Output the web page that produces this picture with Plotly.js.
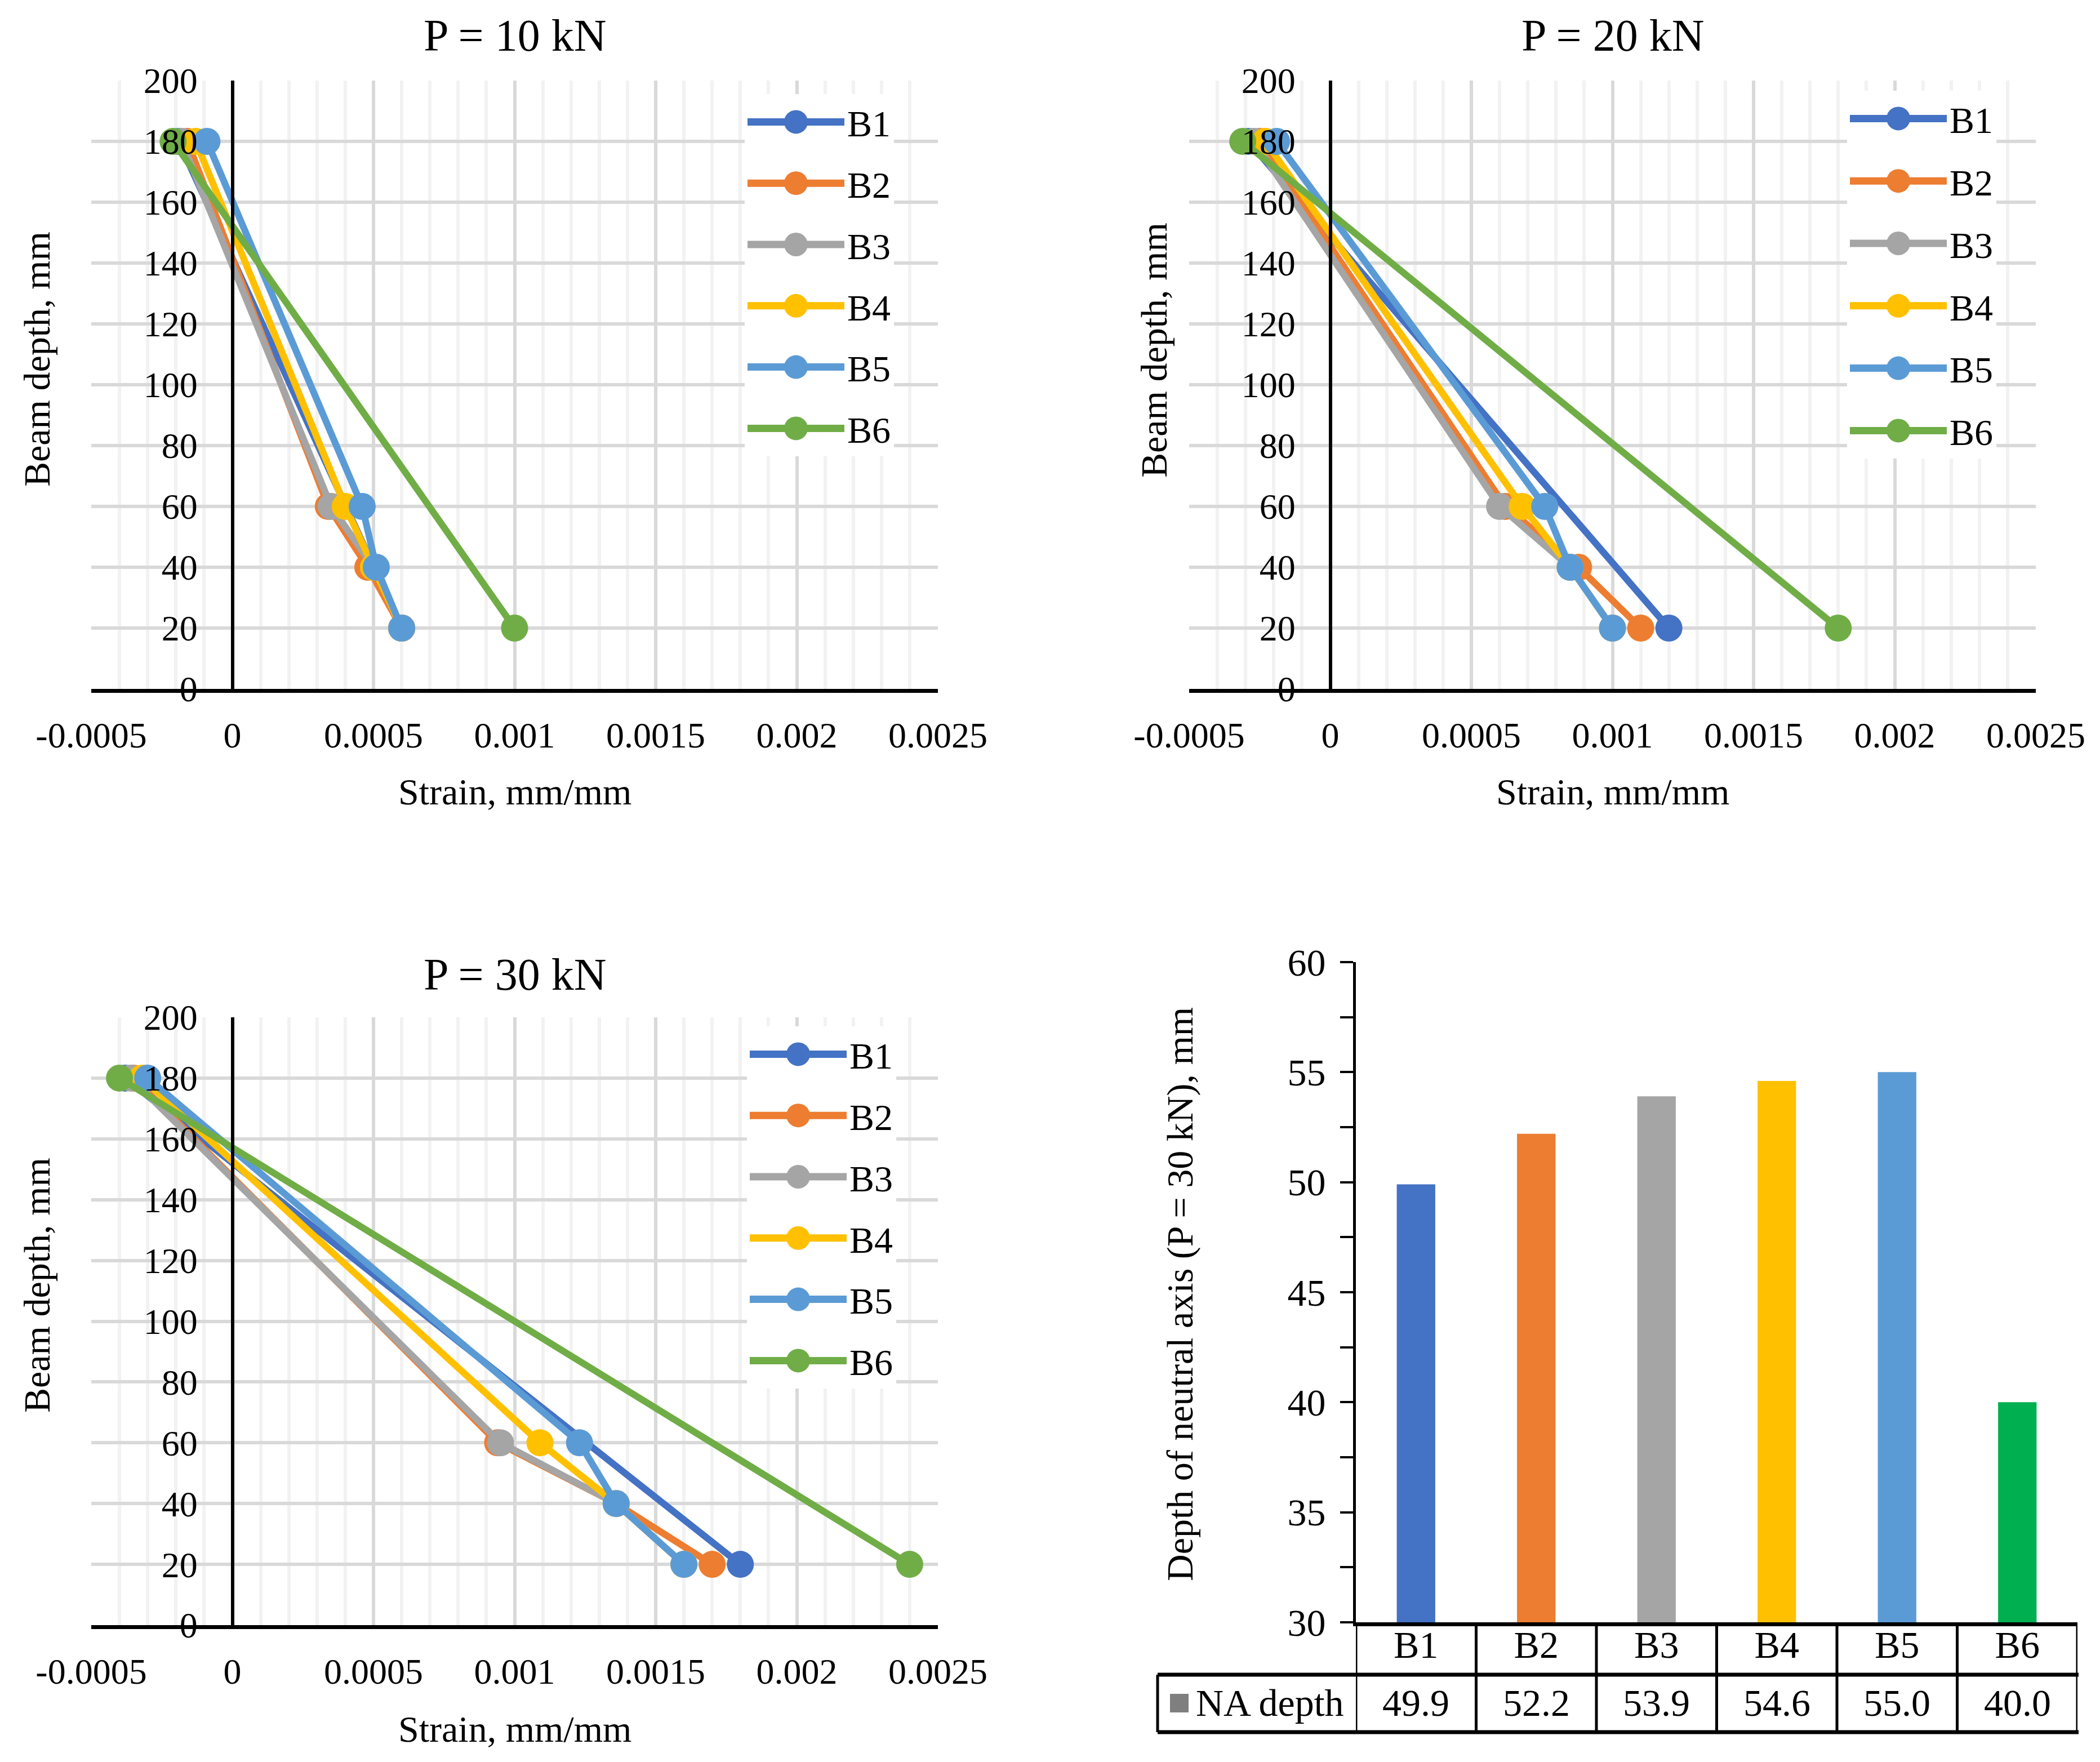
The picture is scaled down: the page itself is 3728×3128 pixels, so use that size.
<!DOCTYPE html>
<html><head><meta charset="utf-8">
<script src="https://cdn.plot.ly/plotly-3.0.1.min.js"></script>
<style>html,body{margin:0;padding:0;background:#fff}</style>
</head><body><div id="chart" style="width:3728px;height:3128px"></div>
<script>
// ---------- data ----------
const beams = ['B1','B2','B3','B4','B5','B6'];
const seriesColors = ['#4472C4','#ED7D31','#A5A5A5','#FFC000','#5B9BD5','#70AD47'];
const barColors = ['#4472C4','#ED7D31','#A5A5A5','#FFC000','#5B9BD5','#00B050'];
const panelTitles = ['P = 10 kN','P = 20 kN','P = 30 kN'];

const depthFull = [180, 60, 40, 20];
const depthEnds = [180, 20];
const depthsByBeam = [depthEnds, depthFull, depthFull, depthFull, depthFull, depthEnds];

// strain (mm/mm) at P = 10 kN
const p10_B1 = [-0.00019, 0.0006];
const p10_B2 = [-0.00016, 0.00034, 0.00048, 0.0006];
const p10_B3 = [-0.00018, 0.00035, 0.0005, 0.0006];
const p10_B4 = [-0.00013, 0.0004, 0.0005, 0.0006];
const p10_B5 = [-0.00009, 0.00046, 0.00051, 0.0006];
const p10_B6 = [-0.00021, 0.001];
// strain at P = 20 kN
const p20_B1 = [-0.00029, 0.0012];
const p20_B2 = [-0.00025, 0.00062, 0.00088, 0.0011];
const p20_B3 = [-0.00027, 0.0006, 0.00085, 0.001];
const p20_B4 = [-0.00023, 0.00068, 0.00085, 0.001];
const p20_B5 = [-0.00019, 0.00076, 0.00085, 0.001];
const p20_B6 = [-0.00031, 0.0018];
// strain at P = 30 kN
const p30_B1 = [-0.00038, 0.0018];
const p30_B2 = [-0.00035, 0.00094, 0.00136, 0.0017];
const p30_B3 = [-0.00036, 0.00095, 0.00136, 0.0016];
const p30_B4 = [-0.00032, 0.00109, 0.00136, 0.0016];
const p30_B5 = [-0.0003, 0.00123, 0.00136, 0.0016];
const p30_B6 = [-0.0004, 0.0024];

const naDepth = [49.9, 52.2, 53.9, 54.6, 55.0, 40.0];
const naLabel = 'NA depth';

const strainTickVals = [-0.0005, 0, 0.0005, 0.001, 0.0015, 0.002, 0.0025];
const strainTickText = ['-0.0005', '0', '0.0005', '0.001', '0.0015', '0.002', '0.0025'];
const depthTickVals = [0, 20, 40, 60, 80, 100, 120, 140, 160, 180, 200];
const naTickVals = [30, 35, 40, 45, 50, 55, 60];

const panelStrains = [
  [p10_B1, p10_B2, p10_B3, p10_B4, p10_B5, p10_B6],
  [p20_B1, p20_B2, p20_B3, p20_B4, p20_B5, p20_B6],
  [p30_B1, p30_B2, p30_B3, p30_B4, p30_B5, p30_B6]
];

// ---------- layout helpers ----------
const W = 3728, H = 3128;
const FONT = '"Liberation Serif", "Times New Roman", serif';
const px = v => v / W;
const py = v => 1 - v / H;

const boxes = [
  {l:162, r:1665, t:143, b:1223, titleY:63, xtY:1405, ytX:65, ytY:638, leg:[1322,167], gap:20},
  {l:2111, r:3614, t:143, b:1223, titleY:63, xtY:1405, ytX:2048, ytY:622, leg:[3279,161], gap:22},
  {l:162, r:1665, t:1806, b:2885, titleY:1730, xtY:3069, ytX:65, ytY:2282, leg:[1326,1822], gap:20}
];
const legendNames = ['legend','legend2','legend3'];

const traces = [];
const layout = {
  width: W, height: H,
  margin: {l:0, r:0, t:0, b:0},
  paper_bgcolor: '#fff', plot_bgcolor: '#fff',
  font: {family: FONT, color: '#000', size: 64},
  showlegend: true,
  annotations: [], shapes: []
};

boxes.forEach((bx, p) => {
  const xid = p === 0 ? 'x' : 'x' + (p + 1);
  const yid = p === 0 ? 'y' : 'y' + (p + 1);
  const xkey = p === 0 ? 'xaxis' : 'xaxis' + (p + 1);
  const ykey = p === 0 ? 'yaxis' : 'yaxis' + (p + 1);
  const xd = [px(bx.l), px(bx.r)];
  layout[xkey] = {
    domain: xd, anchor: yid, range: [-0.0005, 0.0025],
    tickmode: 'array', tickvals: strainTickVals, ticktext: strainTickText,
    showgrid: true, gridcolor: '#D9D9D9', gridwidth: 6,
    minor: {tickmode: 'linear', tick0: 0, dtick: 0.0001, showgrid: true, gridcolor: '#F2F2F2', gridwidth: 6, ticks: ''},
    zeroline: true, zerolinecolor: '#000', zerolinewidth: 6,
    showline: true, linecolor: '#000', linewidth: 7,
    ticks: '', tickfont: {size: 64, family: FONT}, ticklabelstandoff: 20,
    fixedrange: true
  };
  layout[ykey] = {
    domain: [py(bx.b), py(bx.t)], anchor: 'free',
    position: xd[0] + (xd[1] - xd[0]) / 6,
    range: [0, 200], tickmode: 'array', tickvals: depthTickVals,
    showgrid: true, gridcolor: '#D9D9D9', gridwidth: 6,
    zeroline: false, showline: true, linecolor: '#000', linewidth: 6,
    ticks: '', tickfont: {size: 64, family: FONT}, ticklabelstandoff: 46,
    fixedrange: true
  };
  const lg = legendNames[p];
  layout[lg] = {
    x: px(bx.leg[0]), y: py(bx.leg[1]), xanchor: 'left', yanchor: 'top',
    bgcolor: '#fff', borderwidth: 0, font: {size: 66, family: FONT},
    tracegroupgap: bx.gap, itemwidth: 172
  };
  beams.forEach((b, i) => {
    traces.push({
      type: 'scatter', mode: 'lines+markers', name: b,
      x: panelStrains[p][i], y: depthsByBeam[i],
      xaxis: xid, yaxis: yid, legend: lg, legendgroup: 'p' + p + b,
      line: {color: seriesColors[i], width: 12},
      marker: {color: seriesColors[i], size: 48},
      cliponaxis: false
    });
  });
  layout.annotations.push(
    {text: panelTitles[p], xref: 'paper', yref: 'paper', x: (xd[0] + xd[1]) / 2, y: py(bx.titleY),
     xanchor: 'center', yanchor: 'middle', showarrow: false, font: {size: 80, family: FONT}},
    {text: 'Strain, mm/mm', xref: 'paper', yref: 'paper', x: (xd[0] + xd[1]) / 2, y: py(bx.xtY),
     xanchor: 'center', yanchor: 'middle', showarrow: false, font: {size: 66, family: FONT}},
    {text: 'Beam depth, mm', xref: 'paper', yref: 'paper', x: px(bx.ytX), y: py(bx.ytY), textangle: -90,
     xanchor: 'center', yanchor: 'middle', showarrow: false, font: {size: 66, family: FONT}}
  );
});

// ---------- bar chart with data table ----------
layout.xaxis4 = {
  domain: [px(2407), px(3688)], anchor: 'y4', type: 'category', range: [-0.5, 5.5],
  showline: true, linecolor: '#000', linewidth: 7, ticks: '', showgrid: false,
  tickfont: {size: 68, family: FONT}, ticklabelstandoff: -26, fixedrange: true
};
layout.yaxis4 = {
  domain: [py(2880), py(1708)], anchor: 'x4', range: [30, 60],
  tickmode: 'array', tickvals: naTickVals,
  ticks: 'outside', ticklen: 23, tickwidth: 4, tickcolor: '#000',
  minor: {tickmode: 'linear', tick0: 30, dtick: 2.5, ticks: 'outside', ticklen: 23, tickwidth: 4, tickcolor: '#000', showgrid: false},
  showline: true, linecolor: '#000', linewidth: 5, showgrid: false, zeroline: false,
  tickfont: {size: 68, family: FONT}, ticklabelstandoff: 12, fixedrange: true
};
traces.push({
  type: 'bar', x: beams, y: naDepth, xaxis: 'x4', yaxis: 'y4',
  marker: {color: barColors}, showlegend: false, width: 0.32
});
layout.annotations.push({
  text: 'Depth of neutral axis (P = 30 kN), mm', xref: 'paper', yref: 'paper',
  x: px(2095), y: py(2298), textangle: -90, xanchor: 'center', yanchor: 'middle',
  showarrow: false, font: {size: 66, family: FONT}
});
// table grid
const tblTop = py(2880), tblMid = py(2973), tblBot = py(3075);
for (let i = 0; i <= beams.length; i++) {
  layout.shapes.push({type: 'line', xref: 'x4', yref: 'paper', x0: i - 0.5, x1: i - 0.5, y0: tblTop, y1: tblBot,
    line: {color: '#000', width: 5}});
}
layout.shapes.push(
  {type: 'line', xref: 'paper', yref: 'paper', x0: px(2055), x1: px(3690), y0: tblMid, y1: tblMid, line: {color: '#000', width: 7}},
  {type: 'line', xref: 'paper', yref: 'paper', x0: px(2055), x1: px(3690), y0: tblBot, y1: tblBot, line: {color: '#000', width: 7}},
  {type: 'line', xref: 'paper', yref: 'paper', x0: px(2055), x1: px(2055), y0: tblMid, y1: tblBot, line: {color: '#000', width: 5}},
  {type: 'rect', xref: 'paper', yref: 'paper', x0: px(2077), x1: px(2110), y0: py(3040), y1: py(3007),
   fillcolor: '#7F7F7F', line: {width: 0}}
);
layout.annotations.push({
  text: naLabel, xref: 'paper', yref: 'paper', x: px(2121), y: py(3023), xanchor: 'left', yanchor: 'middle',
  showarrow: false, font: {size: 68, family: FONT}
});
naDepth.forEach((v, i) => {
  layout.annotations.push({
    text: v.toFixed(1), xref: 'x4', yref: 'paper', x: beams[i], y: py(3023),
    xanchor: 'center', yanchor: 'middle', showarrow: false, font: {size: 68, family: FONT}
  });
});

// enlarge the legend marker glyphs only (Plotly caps legend marker size)
function styleLegends(gd) {
  const R = 21;
  gd.querySelectorAll('.infolayer g.traces .legendpoints path.scatterpts').forEach(pt => {
    pt.setAttribute('d', 'M' + R + ',0A' + R + ',' + R + ' 0 1,1 0,-' + R + 'A' + R + ',' + R + ' 0 0,1 ' + R + ',0Z');
  });
  gd.querySelectorAll('.infolayer g.traces .legendlines path').forEach(pth => {
    pth.style.strokeWidth = '13px';
  });
}

Plotly.newPlot('chart', traces, layout, {displayModeBar: false, staticPlot: true}).then(styleLegends);
</script></body></html>
